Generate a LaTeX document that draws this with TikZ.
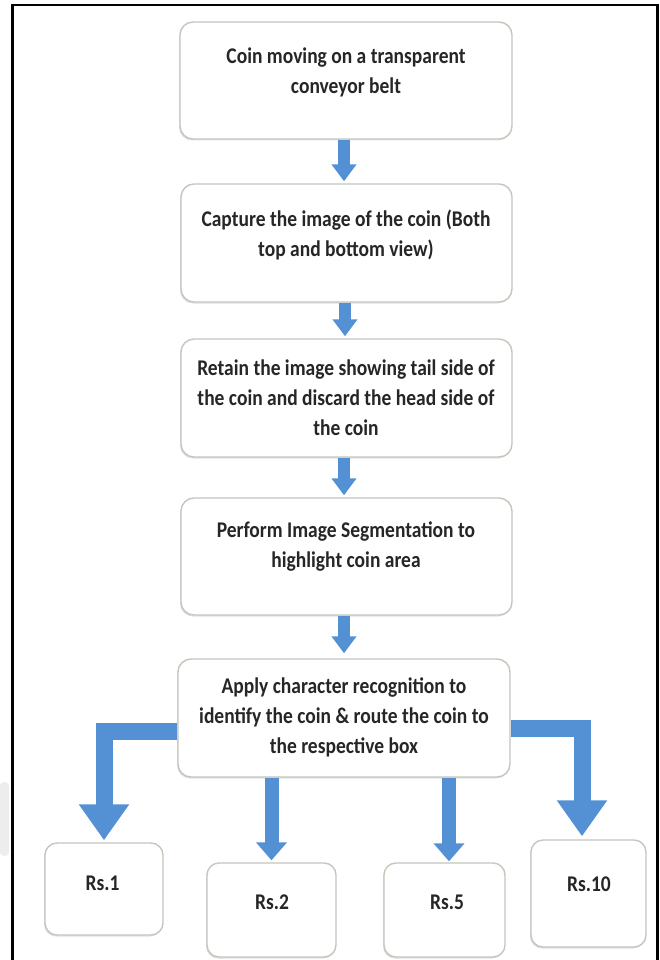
\documentclass[tikz,border=0pt]{standalone}
\usepackage{fontspec}
\setmainfont{Carlito}
\usetikzlibrary{arrows.meta,shadows}
\definecolor{arrowblue}{RGB}{84,145,212}
\definecolor{boxline}{RGB}{198,198,190}
\newcommand{\vs}[1]{\scalebox{1}[1.15]{#1}}
\begin{document}
\begin{tikzpicture}[x=1pt,y=-1pt,
  procbox/.style={draw=boxline, line width=1.4pt, rounded corners=13pt, fill=white, inner sep=0pt,
    drop shadow={shadow xshift=-1pt, shadow yshift=-1.5pt, fill=black, opacity=0.12}},
  coinbox/.style={procbox, rounded corners=12pt},
  lbl/.style={align=center, font=\fontsize{19.5}{30}\selectfont\bfseries, text=black!85, inner sep=0pt},
  flowarrow/.style={draw=arrowblue, line width=12pt, -{Triangle[length=17pt,width=24pt]}},
  midarrow/.style={draw=arrowblue, line width=14pt, -{Triangle[length=18pt,width=30pt]}},
  bigarrow/.style={draw=arrowblue, line width=17pt, line join=miter, -{Triangle[length=36pt,width=48pt]}},
  frameline/.style={draw=black, line width=2.5pt, line join=miter}
]
\useasboundingbox (0,0) rectangle (659,960);
\fill[white] (0,0) rectangle (659,960);
% faint grey smudge at left edge
\fill[gray!14, rounded corners=4pt] (0,782) rectangle (9,856);
% frame
\draw[frameline] (12.5,961) -- (12.5,5) -- (657.5,5) -- (657.5,961);

% process boxes
\node[procbox, minimum width=332pt, minimum height=117pt] (b1) at (346,80.5) {};
\node[procbox, minimum width=331pt, minimum height=118pt] (b2) at (346.5,243) {};
\node[procbox, minimum width=331pt, minimum height=118pt] (b3) at (346.5,398) {};
\node[procbox, minimum width=331pt, minimum height=117pt] (b4) at (346.5,556.5) {};
\node[procbox, minimum width=332pt, minimum height=118pt] (b5) at (344,718) {};

\node[lbl] (t1) at (346,72) {\vs{Coin moving on a transparent}\\\vs{conveyor belt}};
\node[lbl] (t2) at (346,235) {\vs{Capture the image of the coin (Both}\\\vs{top and bottom view)}};
\node[lbl] (t3) at (346,397.5) {\vs{Retain the image showing tail side of}\\\vs{the coin and discard the head side of}\\\vs{the coin}};
\node[lbl] (t4) at (346,547) {\vs{Perform Image Segmentation to}\\\vs{highlight coin area}};
\node[lbl] (t5) at (344,717.5) {\vs{Apply character recognition to}\\\vs{identify the coin \& route the coin to}\\\vs{the respective box}};

% coin boxes
\node[coinbox, minimum width=118pt, minimum height=92pt] (r1) at (104,889) {};
\node[coinbox, minimum width=129pt, minimum height=94pt] (r2) at (271.5,910) {};
\node[coinbox, minimum width=121pt, minimum height=94pt] (r5) at (444.5,910) {};
\node[coinbox, minimum width=115pt, minimum height=107pt] (r10) at (588.5,893.5) {};

\node[lbl] (c1) at (102.5,883) {\vs{Rs.1}};
\node[lbl] (c2) at (272,902) {\vs{Rs.2}};
\node[lbl] (c5) at (447,902) {\vs{Rs.5}};
\node[lbl] (c10) at (589,884) {\vs{Rs.10}};

% vertical flow arrows
\draw[flowarrow] ([xshift=-2pt]b1.south) -- ([xshift=-2.5pt,yshift=2pt]b2.north);
\draw[flowarrow] ([xshift=-1.5pt]b2.south) -- ([xshift=-1.5pt,yshift=2pt]b3.north);
\draw[flowarrow] ([xshift=-2.5pt]b3.south) -- ([xshift=-2.5pt,yshift=2pt]b4.north);
\draw[flowarrow] ([xshift=-2.5pt]b4.south) -- ([yshift=5pt]b5.north);

% routing arrows
\coordinate (r1in) at ([yshift=2pt]r1.north);
\coordinate (r10in) at ([xshift=-6.5pt,yshift=3pt]r10.north);
\coordinate (r2in) at ([yshift=2pt]r2.north);
\coordinate (r5in) at ([xshift=4.5pt,yshift=1pt]r5.north);
\draw[bigarrow] ([yshift=-13pt]b5.west) -| (r1in);
\draw[bigarrow] ([yshift=-10pt]b5.east) -| (r10in);
\draw[midarrow] (r2in |- b5.south) -- (r2in);
\draw[midarrow] (r5in |- b5.south) -- (r5in);
\end{tikzpicture}
\end{document}
